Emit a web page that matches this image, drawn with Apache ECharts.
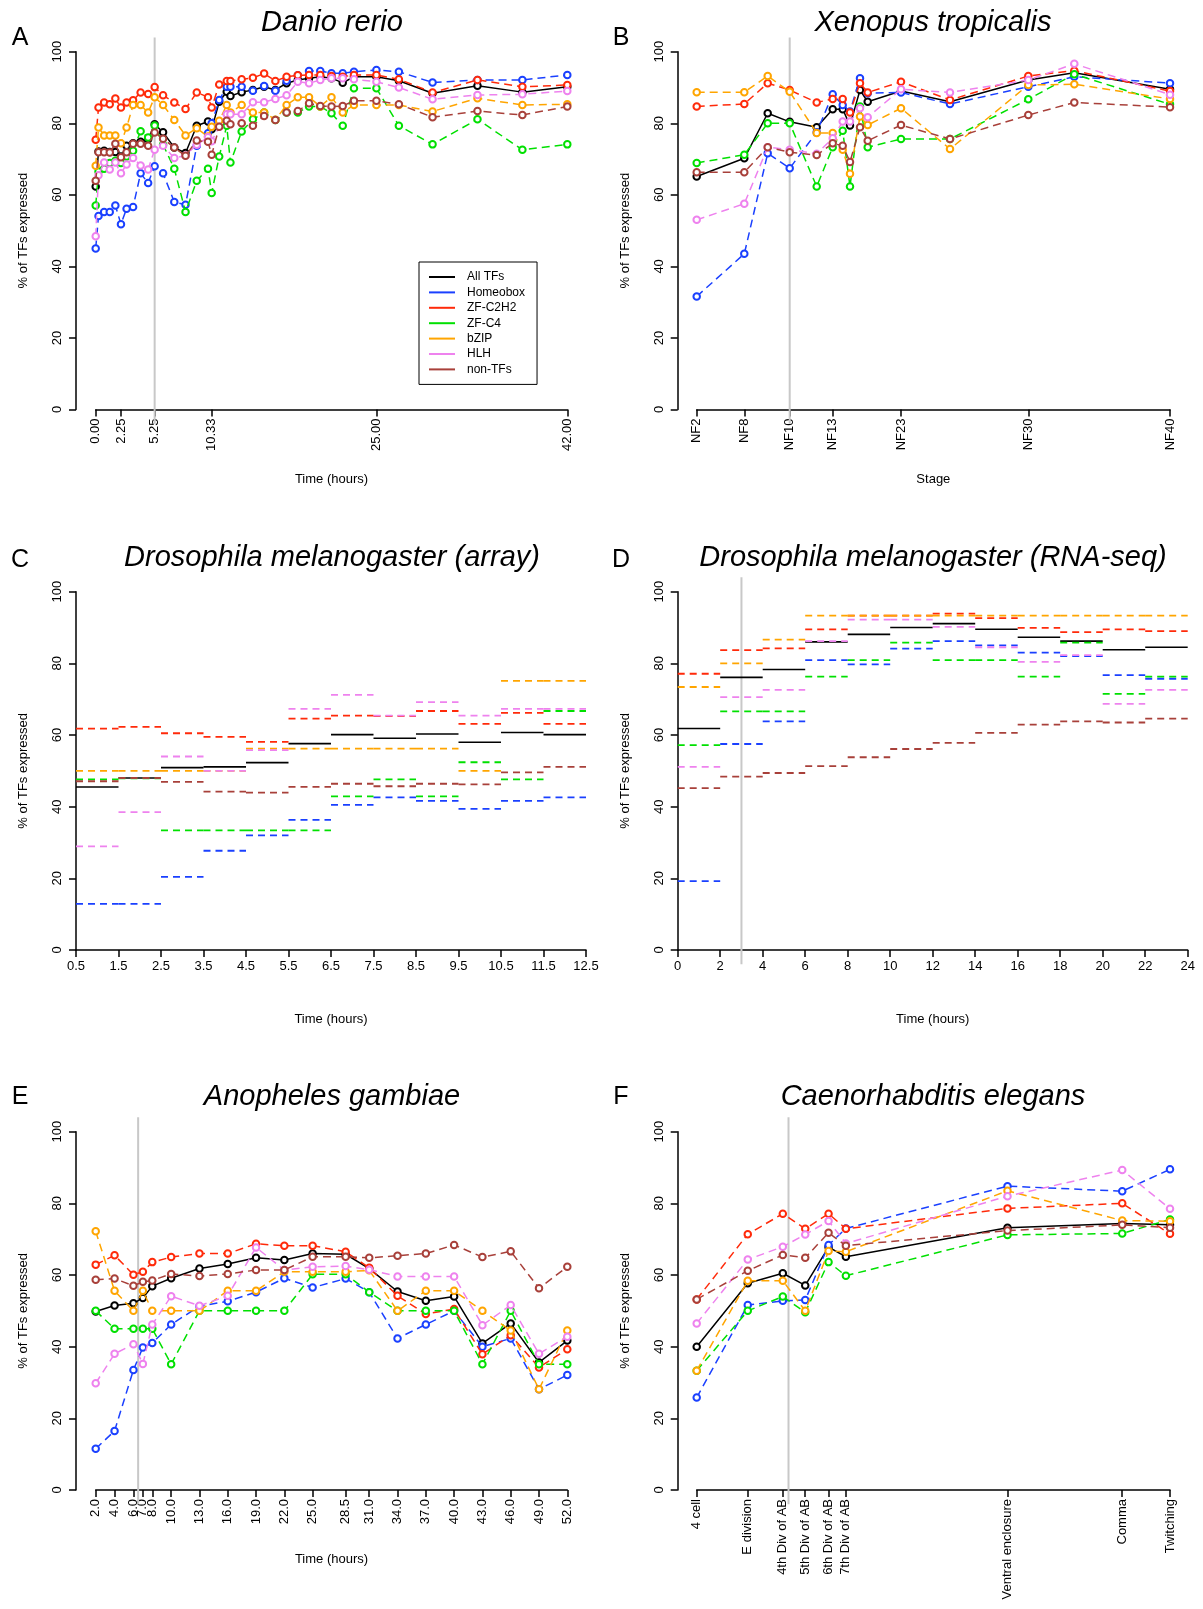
<!DOCTYPE html>
<html><head><meta charset="utf-8">
<script src="https://cdn.jsdelivr.net/npm/echarts@6.0.0/dist/echarts.min.js"></script>
<style>html,body{margin:0;padding:0;background:#fff}#c{width:1203px;height:1609px}</style>
</head><body><div id="c"></div>
<script>
const NAMES = ['All TFs','Homeobox','ZF-C2H2','ZF-C4','bZIP','HLH','non-TFs'];
const COLORS = ['#000000','#1a40ff','#ff2a0a','#00e000','#ffa500','#ee82ee','#a8403a'];
const FONT = '"Liberation Sans", Arial, Helvetica, sans-serif';

// ---- A: Danio rerio ----
const daniTime = [0,0.25,0.75,1.25,1.75,2.25,2.75,3.33,4,4.67,5.25,6,7,8,9,10,10.33,11,11.67,12,13,14,15,16,17,18,19,20,21,22,23,25,27,30,34,38,42];
const daniTicks = [0,2.25,5.25,10.33,25,42];
const daniAll = [62.3,72.1,72.3,72.0,72.0,70.7,73.7,74.4,74.8,75.5,79.7,77.5,73.2,71.7,79.3,80.5,78.3,86.0,88.8,87.6,88.7,89.3,90.2,89.3,91.2,92.1,92.6,93.0,92.6,91.3,93.0,93.0,91.9,88.4,90.5,88.7,90.2];
const daniHomeobox = [45,54.1,55.2,55.2,57.0,51.8,56.1,56.6,66.0,63.3,68.0,66.0,58.0,57.2,73.7,77.2,80.0,86.5,90.2,90.2,90.2,89.1,90.4,89.1,91.9,93.4,94.6,94.6,94.0,94.0,94.4,94.9,94.4,91.4,92.1,92.1,93.5];
const daniZFC2H2 = [75.4,84.4,85.8,85.3,86.9,84.4,85.8,86.4,88.6,88.2,90.1,87.8,85.8,84.0,88.6,87.3,84.4,90.8,91.8,91.8,92.3,92.7,93.9,91.8,93.0,93.4,93.5,93.5,93.2,93.0,93.5,93.5,92.3,88.6,92.1,90.2,90.7];
const daniZFC4 = [57.0,66.5,67.3,68.9,69.5,68.9,70.7,72.3,77.8,76.0,79.4,74.0,67.3,55.2,63.9,67.3,60.5,70.7,79.3,69.0,77.7,81.1,83.0,80.9,83.0,83.0,84.7,84.7,82.8,79.3,89.8,89.8,79.3,74.1,81.1,72.6,74.1];
const daniBZIP = [68.1,78.8,76.6,76.6,76.6,74.4,78.8,85.1,85.1,83.0,87.3,85.1,80.9,76.6,78.6,76.3,79.0,80.7,85.1,83.0,85.1,83.0,83.0,81.0,85.1,87.3,87.3,84.7,87.3,83.0,85.1,85.1,85.1,83.3,87.0,85.1,85.3];
const daniHLH = [48.4,65.5,69.0,67.1,69.0,66.0,68.5,70.3,68.2,67.1,72.6,73.7,70.3,71.0,74.0,76.1,75.0,79.0,82.5,82.5,82.5,85.9,85.9,86.8,87.8,91.6,91.2,92.1,92.6,92.6,92.3,91.6,90.0,86.7,87.9,88.1,89.0];
const daniNonTF = [63.9,71.9,71.9,71.8,74.3,70.5,71.9,74.3,74.3,73.7,77.4,75.7,73.2,70.9,75.2,74.8,71.2,79.0,80.7,79.7,80.0,79.3,82.0,80.9,83.0,83.4,85.6,84.8,84.7,84.8,86.3,86.3,85.3,81.7,83.4,82.3,84.7];
const daniMark = 5.25;

// ---- B: Xenopus tropicalis (x = relative developmental time) ----
const xenoTime = [0,47.6,71,93,120,136,146,153.3,163.3,171,204.3,253.3,331.6,377.6,473.3];
const xenoTickPos = [0,47.6,93,136,204.3,331.6,473.3];
const xenoTickLabels = ['NF2','NF8','NF10','NF13','NF23','NF30','NF40'];
const xenoAll = [65.1,70.2,82.8,80.4,78.9,83.9,83.9,79.4,89.3,86.0,89.0,86.0,92.1,94.1,89.5];
const xenoHomeobox = [31.6,43.5,71.6,67.4,77.5,88.1,85.1,83.3,92.6,88.4,88.6,85.4,90.2,93.0,91.2];
const xenoZFC2H2 = [84.7,85.4,91.2,89.3,85.8,86.8,86.8,83.0,91.2,88.6,91.6,86.5,93.2,94.7,89.0];
const xenoZFC4 = [68.9,71.2,80.0,80.0,62.3,73.3,77.9,62.3,84.7,73.3,75.6,75.6,86.7,93.7,85.3];
const xenoBZIP = [88.7,88.7,93.2,88.8,77.3,77.3,72.6,65.9,81.9,79.5,84.2,72.8,90.7,90.9,86.8];
const xenoHLH = [53.0,57.5,73.3,72.6,71.5,75.8,80.5,80.5,84.2,81.7,89.5,88.6,92.1,96.6,88.0];
const xenoNonTF = [66.3,66.3,73.3,71.9,71.1,74.4,73.7,69.2,78.9,75.1,79.5,75.6,82.3,85.8,84.5];
const xenoMark = 93;

// ---- C: Drosophila array (segment centres, 1 h wide) ----
const dmaTime = [1,2,3,4,5,6,7,8,9,10,11,12];
const dmaTicks = [0.5,1.5,2.5,3.5,4.5,5.5,6.5,7.5,8.5,9.5,10.5,11.5,12.5];
const dmaAll = [45.5,48.0,50.9,51.1,52.3,57.6,60.1,59.1,60.3,58.0,60.7,60.1];
const dmaHomeobox = [12.9,12.9,20.4,27.7,32.0,36.3,40.5,42.6,41.6,39.4,41.6,42.6];
const dmaZFC2H2 = [61.8,62.3,60.5,59.5,58.1,64.6,65.4,65.3,66.7,63.1,66.2,63.1];
const dmaZFC4 = [47.6,47.9,33.4,33.4,33.4,33.4,42.9,47.6,42.9,52.4,47.6,66.7];
const dmaBZIP = [50.0,50.0,50.0,50.0,56.2,56.2,56.2,56.2,56.2,50.0,75.1,75.1];
const dmaHLH = [28.9,38.5,54.0,50.0,55.8,67.3,71.2,65.4,69.2,65.4,67.3,67.3];
const dmaNonTF = [47.1,48.0,46.9,44.2,43.9,45.5,46.4,45.7,46.4,46.2,49.6,51.1];

// ---- D: Drosophila RNA-seq (segment centres, 2 h wide) ----
const dmrTime = [1,3,5,7,9,11,13,15,17,19,21,23];
const dmrAll = [61.8,76.1,78.3,86.0,88.1,90.0,91.1,89.5,87.3,86.2,83.8,84.5];
const dmrHomeobox = [19.2,57.5,63.8,80.9,79.7,84.1,86.2,85.0,83.0,82.0,76.7,75.7];
const dmrZFC2H2 = [77.1,83.7,84.2,89.5,93.3,93.3,93.9,92.6,89.9,88.7,89.5,89.0];
const dmrZFC4 = [57.2,66.6,66.6,76.3,80.9,85.8,80.9,80.9,76.3,85.8,71.5,76.3];
const dmrBZIP = [73.4,80.0,86.6,93.3,93.3,93.3,93.3,93.3,93.3,93.3,93.3,93.3];
const dmrHLH = [51.1,70.6,72.6,86.2,92.2,92.2,90.2,84.5,80.4,82.3,68.7,72.6];
const dmrNonTF = [45.2,48.4,49.4,51.3,53.8,56.1,57.8,60.6,62.9,63.8,63.5,64.6];
const dmrMark = 3;

// ---- E: Anopheles gambiae ----
const anoTime = [2,4,6,7,8,10,13,16,19,22,25,28.5,31,34,37,40,43,46,49,52];
const anoAll = [49.8,51.5,52.1,53.6,56.9,59.1,61.8,63.1,64.8,64.2,66.0,65.8,61.8,55.4,52.8,54.0,40.9,46.5,35.6,41.7];
const anoHomeobox = [11.5,16.5,33.5,39.8,41.0,46.2,51.3,52.7,55.2,59.1,56.5,59.0,55.2,42.3,46.2,50.0,40.0,42.3,28.1,32.1];
const anoZFC2H2 = [62.9,65.5,60.1,60.9,63.6,65.0,66.0,66.0,68.7,68.2,68.2,66.5,62.0,54.2,49.1,50.5,37.9,43.2,34.2,39.3];
const anoZFC4 = [50.0,45.0,45.0,45.0,45.0,35.1,50.0,50.0,50.0,50.0,60.2,60.2,55.2,50.0,50.0,50.0,35.1,50.0,35.1,35.1];
const anoBZIP = [72.2,55.6,50.0,55.6,50.0,50.0,50.0,55.6,55.6,60.9,60.9,60.9,61.3,50.0,55.6,55.6,50.0,44.5,28.1,44.5];
const anoHLH = [29.8,38.0,40.7,35.2,46.2,54.1,51.4,54.2,67.7,61.4,62.3,62.5,61.5,59.6,59.6,59.6,46.0,51.6,38.0,42.8];
const anoNonTF = [58.7,59.0,57.0,58.1,58.5,60.3,59.7,60.3,61.4,61.4,65.1,65.1,64.8,65.4,66.0,68.4,65.0,66.6,56.3,62.3];
const anoMark = 6.5;

// ---- F: Caenorhabditis elegans (x = relative developmental time) ----
const celeTime = [0,51,86,108.4,131.7,149,310.4,425,472.7];
const celeLabels = ['4 cell','E division','4th Div of AB','5th Div of AB','6th Div of AB','7th Div of AB','Ventral enclosure','Comma','Twitching'];
const celeAll = [40.0,57.7,60.5,57.1,67.8,65.1,73.2,74.4,74.0];
const celeHomeobox = [25.8,51.6,52.8,53.0,68.4,73.0,84.8,83.4,89.5];
const celeZFC2H2 = [53.2,71.4,77.1,72.9,77.1,72.9,78.6,80.0,71.5];
const celeZFC4 = [33.3,50.0,54.0,49.6,63.6,59.8,71.2,71.6,75.5];
const celeBZIP = [33.3,58.4,58.4,50.0,66.7,66.5,83.5,75.2,75.0];
const celeHLH = [46.5,64.3,67.9,71.3,75.1,68.8,82.0,89.3,78.5];
const celeNonTF = [53.2,61.2,65.6,64.8,71.8,68.2,72.4,74.0,73.2];
const celeMark = 91.7;

// ---------------- build ----------------
const panels = [
  {grid:{left:95.7,top:51.7,width:471.6,height:357.8}, yOff:19.7},
  {grid:{left:696.7,top:51.7,width:473.3,height:357.8}, yOff:19},
  {grid:{left:76,top:591.7,width:510,height:358.3}, yOff:0},
  {grid:{left:677.7,top:591.7,width:510,height:358.3}, yOff:0},
  {grid:{left:95.7,top:1131.7,width:471.6,height:358.3}, yOff:19.7},
  {grid:{left:696.7,top:1131.7,width:473.3,height:358.3}, yOff:19}
];
const axLine = {show:true, onZero:false, lineStyle:{color:'#000', width:1.5}};
const axTick = {show:true, length:7, inside:false, lineStyle:{color:'#000', width:1.5}};
const lblBase = {color:'#000', fontSize:13, fontFamily:FONT, hideOverlap:false, showMinLabel:true, showMaxLabel:true};
const nameStyle = {color:'#000', fontSize:13, fontFamily:FONT};

const grids = panels.map(p => Object.assign({containLabel:false, outerBoundsMode:'none', show:false}, p.grid));
const yAxes = panels.map((p,i) => ({
  type:'value', gridIndex:i, min:0, max:100, interval:20, offset:p.yOff,
  axisLine:axLine, axisTick:axTick, splitLine:{show:false},
  axisLabel:Object.assign({rotate:90, margin:12}, lblBase),
  name:'% of TFs expressed', nameLocation:'middle', nameGap:46, nameRotate:90, nameTextStyle:nameStyle
}));
function nearestLabel(pos, labels, v){ let b=0; for(let i=1;i<pos.length;i++){ if(Math.abs(pos[i]-v)<Math.abs(pos[b]-v)) b=i; } return labels[b]; }
const xAxes = [
  {type:'value', gridIndex:0, min:0, max:42, axisLine:axLine,
   axisTick:Object.assign({customValues:daniTicks}, axTick),
   axisLabel:Object.assign({customValues:daniTicks, rotate:90, margin:9, formatter:v=>Number(v).toFixed(2)}, lblBase),
   splitLine:{show:false}, name:'Time (hours)', nameLocation:'middle', nameGap:63, nameTextStyle:nameStyle},
  {type:'value', gridIndex:1, min:0, max:473.3, axisLine:axLine,
   axisTick:Object.assign({customValues:xenoTickPos}, axTick),
   axisLabel:Object.assign({customValues:xenoTickPos, rotate:90, margin:9, formatter:v=>nearestLabel(xenoTickPos, xenoTickLabels, v)}, lblBase),
   splitLine:{show:false}, name:'Stage', nameLocation:'middle', nameGap:63, nameTextStyle:nameStyle},
  {type:'value', gridIndex:2, min:0.5, max:12.5, axisLine:axLine,
   axisTick:Object.assign({customValues:dmaTicks}, axTick),
   axisLabel:Object.assign({customValues:dmaTicks, rotate:0, margin:10, formatter:v=>Number(v).toFixed(1)}, lblBase),
   splitLine:{show:false}, name:'Time (hours)', nameLocation:'middle', nameGap:63, nameTextStyle:nameStyle},
  {type:'value', gridIndex:3, min:0, max:24, interval:2, axisLine:axLine, axisTick:axTick,
   axisLabel:Object.assign({rotate:0, margin:10}, lblBase),
   splitLine:{show:false}, name:'Time (hours)', nameLocation:'middle', nameGap:63, nameTextStyle:nameStyle},
  {type:'value', gridIndex:4, min:2, max:52, axisLine:axLine,
   axisTick:Object.assign({customValues:anoTime}, axTick),
   axisLabel:Object.assign({customValues:anoTime, rotate:90, margin:9, formatter:v=>Number(v).toFixed(1)}, lblBase),
   splitLine:{show:false}, name:'Time (hours)', nameLocation:'middle', nameGap:63, nameTextStyle:nameStyle},
  {type:'value', gridIndex:5, min:0, max:472.7, axisLine:axLine,
   axisTick:Object.assign({customValues:celeTime}, axTick),
   axisLabel:Object.assign({customValues:celeTime, rotate:90, margin:9, formatter:v=>nearestLabel(celeTime, celeLabels, v)}, lblBase),
   splitLine:{show:false}}
];

const series = [];
function grayLine(gi, xv){
  series.push({type:'custom', xAxisIndex:gi, yAxisIndex:gi, silent:true, z:1, clip:false,
    data:[[xv,50]], encode:{x:0,y:1},
    renderItem:(p,api)=>{ const a=api.coord([api.value(0),-4]); const b=api.coord([api.value(0),104]);
      return {type:'line', shape:{x1:a[0],y1:a[1],x2:b[0],y2:b[1]}, style:{stroke:'#c8c8c8', lineWidth:2}}; }});
}
function lineSet(gi, xs, sets){
  sets.forEach((ys,k)=>{
    series.push({type:'line', name:NAMES[k], xAxisIndex:gi, yAxisIndex:gi, clip:false,
      data: xs.map((x,i)=>[x, ys[i]]), symbol:'emptyCircle', symbolSize:6.5, showSymbol:true,
      color:COLORS[k], itemStyle:{color:COLORS[k], borderWidth:1.6},
      lineStyle:{color:COLORS[k], width:1.5, type: k===0 ? 'solid' : [8,5]},
      emphasis:{disabled:true}, z:3+k});
  });
}
function segSet(gi, centres, half, sets){
  sets.forEach((ys,k)=>{
    series.push({type:'custom', name:NAMES[k], xAxisIndex:gi, yAxisIndex:gi, clip:false, z:3+k,
      data: centres.map((c,i)=>[c-half, c+half, ys[i]]), encode:{x:[0,1], y:2},
      itemStyle:{color:COLORS[k]},
      renderItem:(p,api)=>{ const a=api.coord([api.value(0),api.value(2)]); const b=api.coord([api.value(1),api.value(2)]);
        return {type:'line', shape:{x1:a[0],y1:a[1],x2:b[0],y2:b[1]},
          style:{stroke:COLORS[k], lineWidth: k===0 ? 1.6 : 1.8, lineDash: k===0 ? null : [7,5]}}; }});
  });
}
grayLine(0, daniMark); grayLine(1, xenoMark); grayLine(3, dmrMark); grayLine(4, anoMark); grayLine(5, celeMark);
lineSet(0, daniTime, [daniAll,daniHomeobox,daniZFC2H2,daniZFC4,daniBZIP,daniHLH,daniNonTF]);
lineSet(1, xenoTime, [xenoAll,xenoHomeobox,xenoZFC2H2,xenoZFC4,xenoBZIP,xenoHLH,xenoNonTF]);
segSet(2, dmaTime, 0.5, [dmaAll,dmaHomeobox,dmaZFC2H2,dmaZFC4,dmaBZIP,dmaHLH,dmaNonTF]);
segSet(3, dmrTime, 1, [dmrAll,dmrHomeobox,dmrZFC2H2,dmrZFC4,dmrBZIP,dmrHLH,dmrNonTF]);
lineSet(4, anoTime, [anoAll,anoHomeobox,anoZFC2H2,anoZFC4,anoBZIP,anoHLH,anoNonTF]);
lineSet(5, celeTime, [celeAll,celeHomeobox,celeZFC2H2,celeZFC4,celeBZIP,celeHLH,celeNonTF]);

function txt(text, x, y, font){
  return {type:'text', x:x, y:y, silent:true, z:100,
    style:{text:text, font:font, fill:'#000', align:'center', verticalAlign:'middle', textAlign:'center', textVerticalAlign:'middle'}};
}
const TITLE = 'italic 29px ' + FONT;
const LETTER = '25px ' + FONT;
const graphic = [
  txt('Danio rerio', 332, 23, TITLE), txt('Xenopus tropicalis', 933, 23, TITLE),
  txt('Drosophila melanogaster (array)', 332, 558, TITLE), txt('Drosophila melanogaster (RNA-seq)', 933, 558, TITLE),
  txt('Anopheles gambiae', 332, 1097, TITLE), txt('Caenorhabditis elegans', 933, 1097, TITLE),
  txt('A', 20, 38, LETTER), txt('B', 621, 38, LETTER), txt('C', 20, 560, LETTER),
  txt('D', 621, 560, LETTER), txt('E', 20, 1097, LETTER), txt('F', 621, 1097, LETTER)
];

const chart = echarts.init(document.getElementById('c'), null, {renderer:'canvas'});
chart.setOption({
  animation:false, backgroundColor:'#fff',
  grid:grids, xAxis:xAxes, yAxis:yAxes, series:series, graphic:graphic,
  legend:{data:NAMES, orient:'vertical', left:419, top:262, icon:'rect', itemWidth:26, itemHeight:2,
    itemGap:3.4, padding:[9,12,9,10], borderColor:'#000', borderWidth:1, backgroundColor:'#fff',
    selectedMode:false, textStyle:{fontSize:12, fontFamily:FONT, color:'#000', padding:[0,0,0,7]}}
});
</script></body></html>
